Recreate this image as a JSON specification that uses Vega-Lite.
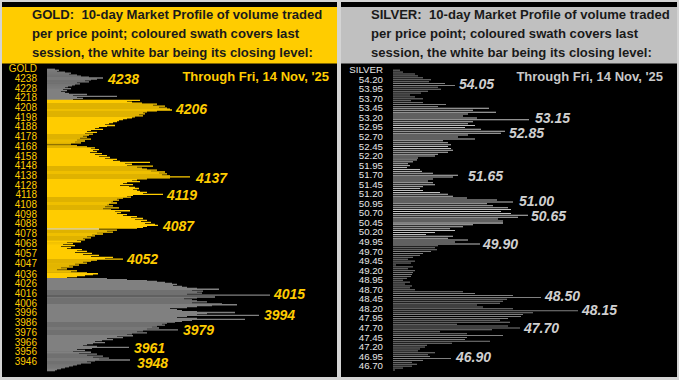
{
  "$schema": "https://vega.github.io/schema/vega-lite/v6.json",
  "background": "#d4d4d4",
  "padding": {"left": 2, "top": 2, "right": 2, "bottom": 3},
  "bounds": "flush",
  "spacing": 4,
  "config": {"view": {"stroke": null}},
  "resolve": {"scale": {"x": "independent", "y": "independent", "color": "independent"}},
  "datasets": {
    "gold": [
      {"p":4248,"v":8,"s":"prior"},{"p":4247,"v":12,"s":"prior"},{"p":4246,"v":10,"s":"prior"},{"p":4245,"v":18,"s":"prior"},{"p":4244,"v":24,"s":"prior"},{"p":4243,"v":22,"s":"prior"},{"p":4242,"v":30,"s":"prior"},{"p":4241,"v":34,"s":"prior"},{"p":4240,"v":42,"s":"prior"},{"p":4239,"v":56,"s":"prior"},{"p":4238,"v":50,"s":"prior"},{"p":4237,"v":44,"s":"prior"},{"p":4236,"v":38,"s":"prior"},{"p":4235,"v":42,"s":"prior"},{"p":4234,"v":30,"s":"prior"},{"p":4233,"v":33,"s":"prior"},{"p":4232,"v":28,"s":"prior"},{"p":4231,"v":25,"s":"prior"},{"p":4230,"v":21,"s":"prior"},{"p":4229,"v":18,"s":"prior"},{"p":4228,"v":24,"s":"prior"},{"p":4227,"v":16,"s":"prior"},{"p":4226,"v":20,"s":"prior"},{"p":4225,"v":14,"s":"prior"},{"p":4224,"v":18,"s":"prior"},{"p":4223,"v":22,"s":"prior"},{"p":4222,"v":40,"s":"prior"},{"p":4221,"v":26,"s":"prior"},{"p":4220,"v":70,"s":"prior"},{"p":4219,"v":30,"s":"prior"},{"p":4218,"v":36,"s":"prior"},{"p":4217,"v":26,"s":"prior"},
      {"p":4216,"v":93,"s":"last"},{"p":4215,"v":80,"s":"last"},{"p":4214,"v":85,"s":"last"},{"p":4213,"v":95,"s":"last"},{"p":4212,"v":110,"s":"last"},{"p":4211,"v":106,"s":"last"},{"p":4210,"v":118,"s":"last"},{"p":4209,"v":112,"s":"last"},{"p":4208,"v":120,"s":"last"},{"p":4207,"v":123,"s":"last"},{"p":4206,"v":125,"s":"last"},{"p":4205,"v":110,"s":"last"},{"p":4204,"v":100,"s":"last"},{"p":4203,"v":96,"s":"last"},{"p":4202,"v":98,"s":"last"},{"p":4201,"v":92,"s":"last"},{"p":4200,"v":96,"s":"last"},{"p":4199,"v":88,"s":"last"},{"p":4198,"v":85,"s":"last"},{"p":4197,"v":80,"s":"last"},{"p":4196,"v":76,"s":"last"},{"p":4195,"v":72,"s":"last"},{"p":4194,"v":70,"s":"last"},{"p":4193,"v":66,"s":"last"},{"p":4192,"v":62,"s":"last"},{"p":4191,"v":58,"s":"last"},{"p":4190,"v":68,"s":"last"},{"p":4189,"v":60,"s":"last"},{"p":4188,"v":52,"s":"last"},{"p":4187,"v":48,"s":"last"},{"p":4186,"v":56,"s":"last"},{"p":4185,"v":44,"s":"last"},{"p":4184,"v":40,"s":"last"},{"p":4183,"v":50,"s":"last"},{"p":4182,"v":38,"s":"last"},{"p":4181,"v":46,"s":"last"},{"p":4180,"v":42,"s":"last"},{"p":4179,"v":36,"s":"last"},{"p":4178,"v":40,"s":"last"},{"p":4177,"v":33,"s":"last"},{"p":4176,"v":44,"s":"last"},{"p":4175,"v":30,"s":"last"},{"p":4174,"v":38,"s":"last"},{"p":4173,"v":28,"s":"last"},{"p":4172,"v":34,"s":"last"},{"p":4171,"v":24,"s":"last"},{"p":4170,"v":0,"s":"last"},{"p":4169,"v":30,"s":"last"},{"p":4168,"v":40,"s":"last"},{"p":4167,"v":48,"s":"last"},{"p":4166,"v":44,"s":"last"},{"p":4165,"v":52,"s":"last"},{"p":4164,"v":46,"s":"last"},{"p":4163,"v":50,"s":"last"},{"p":4162,"v":43,"s":"last"},{"p":4161,"v":55,"s":"last"},{"p":4160,"v":48,"s":"last"},{"p":4159,"v":60,"s":"last"},{"p":4158,"v":52,"s":"last"},{"p":4157,"v":63,"s":"last"},{"p":4156,"v":58,"s":"last"},{"p":4155,"v":70,"s":"last"},{"p":4154,"v":66,"s":"last"},{"p":4153,"v":73,"s":"last"},{"p":4152,"v":103,"s":"last"},{"p":4151,"v":78,"s":"last"},{"p":4150,"v":85,"s":"last"},{"p":4149,"v":80,"s":"last"},{"p":4148,"v":106,"s":"last"},{"p":4147,"v":90,"s":"last"},{"p":4146,"v":95,"s":"last"},{"p":4145,"v":100,"s":"last"},{"p":4144,"v":110,"s":"last"},{"p":4143,"v":104,"s":"last"},{"p":4142,"v":118,"s":"last"},{"p":4141,"v":112,"s":"last"},{"p":4140,"v":120,"s":"last"},{"p":4139,"v":115,"s":"last"},{"p":4138,"v":123,"s":"last"},{"p":4137,"v":143,"s":"last"},{"p":4136,"v":123,"s":"last"},{"p":4135,"v":100,"s":"last"},{"p":4134,"v":90,"s":"last"},{"p":4133,"v":85,"s":"last"},{"p":4132,"v":93,"s":"last"},{"p":4131,"v":80,"s":"last"},{"p":4130,"v":76,"s":"last"},{"p":4129,"v":86,"s":"last"},{"p":4128,"v":73,"s":"last"},{"p":4127,"v":82,"s":"last"},{"p":4126,"v":88,"s":"last"},{"p":4125,"v":92,"s":"last"},{"p":4124,"v":86,"s":"last"},{"p":4123,"v":90,"s":"last"},{"p":4122,"v":93,"s":"last"},{"p":4121,"v":100,"s":"last"},{"p":4120,"v":96,"s":"last"},{"p":4119,"v":116,"s":"last"},{"p":4118,"v":86,"s":"last"},{"p":4117,"v":80,"s":"last"},{"p":4116,"v":84,"s":"last"},{"p":4115,"v":76,"s":"last"},{"p":4114,"v":70,"s":"last"},{"p":4113,"v":72,"s":"last"},{"p":4112,"v":66,"s":"last"},{"p":4111,"v":64,"s":"last"},{"p":4110,"v":70,"s":"last"},{"p":4109,"v":62,"s":"last"},{"p":4108,"v":60,"s":"last"},{"p":4107,"v":66,"s":"last"},{"p":4106,"v":58,"s":"last"},{"p":4105,"v":72,"s":"last"},{"p":4104,"v":56,"s":"last"},{"p":4103,"v":64,"s":"last"},{"p":4102,"v":83,"s":"last"},{"p":4101,"v":68,"s":"last"},{"p":4100,"v":74,"s":"last"},{"p":4099,"v":70,"s":"last"},{"p":4098,"v":80,"s":"last"},{"p":4097,"v":76,"s":"last"},{"p":4096,"v":90,"s":"last"},{"p":4095,"v":84,"s":"last"},{"p":4094,"v":96,"s":"last"},{"p":4093,"v":88,"s":"last"},{"p":4092,"v":100,"s":"last"},{"p":4091,"v":94,"s":"last"},{"p":4090,"v":104,"s":"last"},{"p":4089,"v":98,"s":"last"},{"p":4088,"v":108,"s":"last"},{"p":4087,"v":111,"s":"last"},{"p":4086,"v":100,"s":"last"},{"p":4085,"v":96,"s":"last"},{"p":4084,"v":90,"s":"last"},{"p":4083,"v":52,"s":"close"},{"p":4082,"v":70,"s":"last"},{"p":4081,"v":60,"s":"last"},{"p":4080,"v":66,"s":"last"},{"p":4079,"v":50,"s":"last"},{"p":4078,"v":56,"s":"last"},{"p":4077,"v":45,"s":"last"},{"p":4076,"v":48,"s":"last"},{"p":4075,"v":40,"s":"last"},{"p":4074,"v":44,"s":"last"},{"p":4073,"v":36,"s":"last"},{"p":4072,"v":38,"s":"last"},{"p":4071,"v":30,"s":"last"},{"p":4070,"v":34,"s":"last"},{"p":4069,"v":20,"s":"last"},{"p":4068,"v":26,"s":"last"},{"p":4067,"v":16,"s":"last"},{"p":4066,"v":28,"s":"last"},{"p":4065,"v":14,"s":"last"},{"p":4064,"v":24,"s":"last"},{"p":4063,"v":20,"s":"last"},{"p":4062,"v":35,"s":"last"},{"p":4061,"v":30,"s":"last"},{"p":4060,"v":40,"s":"last"},{"p":4059,"v":28,"s":"last"},{"p":4058,"v":45,"s":"last"},{"p":4057,"v":36,"s":"last"},{"p":4056,"v":52,"s":"last"},{"p":4055,"v":44,"s":"last"},{"p":4054,"v":66,"s":"last"},{"p":4053,"v":58,"s":"last"},{"p":4052,"v":76,"s":"last"},{"p":4051,"v":50,"s":"last"},{"p":4050,"v":44,"s":"last"},{"p":4049,"v":36,"s":"last"},{"p":4048,"v":40,"s":"last"},{"p":4047,"v":28,"s":"last"},{"p":4046,"v":32,"s":"last"},{"p":4045,"v":22,"s":"last"},{"p":4044,"v":26,"s":"last"},{"p":4043,"v":14,"s":"last"},{"p":4042,"v":20,"s":"last"},{"p":4041,"v":10,"s":"last"},{"p":4040,"v":30,"s":"last"},{"p":4039,"v":24,"s":"last"},{"p":4038,"v":40,"s":"last"},{"p":4037,"v":51,"s":"last"},{"p":4036,"v":46,"s":"last"},{"p":4035,"v":38,"s":"last"},{"p":4034,"v":30,"s":"last"},{"p":4033,"v":20,"s":"last"},
      {"p":4032,"v":60,"s":"prior"},{"p":4031,"v":80,"s":"prior"},{"p":4030,"v":100,"s":"prior"},{"p":4029,"v":110,"s":"prior"},{"p":4028,"v":118,"s":"prior"},{"p":4027,"v":125,"s":"prior"},{"p":4026,"v":130,"s":"prior"},{"p":4025,"v":126,"s":"prior"},{"p":4024,"v":135,"s":"prior"},{"p":4023,"v":140,"s":"prior"},{"p":4022,"v":150,"s":"prior"},{"p":4021,"v":172,"s":"prior"},{"p":4020,"v":145,"s":"prior"},{"p":4019,"v":156,"s":"prior"},{"p":4018,"v":150,"s":"prior"},{"p":4017,"v":155,"s":"prior"},{"p":4016,"v":140,"s":"prior"},{"p":4015,"v":223,"s":"prior"},{"p":4014,"v":0,"s":"prior"},{"p":4013,"v":168,"s":"prior"},{"p":4012,"v":150,"s":"prior"},{"p":4011,"v":137,"s":"prior"},{"p":4010,"v":145,"s":"prior"},{"p":4009,"v":150,"s":"prior"},{"p":4008,"v":160,"s":"prior"},{"p":4007,"v":145,"s":"prior"},{"p":4006,"v":175,"s":"prior"},{"p":4005,"v":190,"s":"prior"},{"p":4004,"v":165,"s":"prior"},{"p":4003,"v":150,"s":"prior"},{"p":4002,"v":140,"s":"prior"},{"p":4001,"v":123,"s":"prior"},{"p":4000,"v":130,"s":"prior"},{"p":3999,"v":135,"s":"prior"},{"p":3998,"v":150,"s":"prior"},{"p":3997,"v":188,"s":"prior"},{"p":3996,"v":160,"s":"prior"},{"p":3995,"v":150,"s":"prior"},{"p":3994,"v":212,"s":"prior"},{"p":3993,"v":140,"s":"prior"},{"p":3992,"v":130,"s":"prior"},{"p":3991,"v":150,"s":"prior"},{"p":3990,"v":198,"s":"prior"},{"p":3989,"v":145,"s":"prior"},{"p":3988,"v":135,"s":"prior"},{"p":3987,"v":128,"s":"prior"},{"p":3986,"v":120,"s":"prior"},{"p":3985,"v":115,"s":"prior"},{"p":3984,"v":118,"s":"prior"},{"p":3983,"v":110,"s":"prior"},{"p":3982,"v":105,"s":"prior"},{"p":3981,"v":112,"s":"prior"},{"p":3980,"v":100,"s":"prior"},{"p":3979,"v":131,"s":"prior"},{"p":3978,"v":96,"s":"prior"},{"p":3977,"v":90,"s":"prior"},{"p":3976,"v":100,"s":"prior"},{"p":3975,"v":85,"s":"prior"},{"p":3974,"v":80,"s":"prior"},{"p":3973,"v":86,"s":"prior"},{"p":3972,"v":70,"s":"prior"},{"p":3971,"v":76,"s":"prior"},{"p":3970,"v":60,"s":"prior"},{"p":3969,"v":66,"s":"prior"},{"p":3968,"v":55,"s":"prior"},{"p":3967,"v":48,"s":"prior"},{"p":3966,"v":58,"s":"prior"},{"p":3965,"v":46,"s":"prior"},{"p":3964,"v":40,"s":"prior"},{"p":3963,"v":36,"s":"prior"},{"p":3962,"v":50,"s":"prior"},{"p":3961,"v":82,"s":"prior"},{"p":3960,"v":45,"s":"prior"},{"p":3959,"v":30,"s":"prior"},{"p":3958,"v":38,"s":"prior"},{"p":3957,"v":26,"s":"prior"},{"p":3956,"v":44,"s":"prior"},{"p":3955,"v":32,"s":"prior"},{"p":3954,"v":50,"s":"prior"},{"p":3953,"v":40,"s":"prior"},{"p":3952,"v":56,"s":"prior"},{"p":3951,"v":46,"s":"prior"},{"p":3950,"v":62,"s":"prior"},{"p":3949,"v":52,"s":"prior"},{"p":3948,"v":83,"s":"prior"},{"p":3947,"v":48,"s":"prior"},{"p":3946,"v":40,"s":"prior"},{"p":3945,"v":44,"s":"prior"},{"p":3944,"v":34,"s":"prior"},{"p":3943,"v":30,"s":"prior"},{"p":3942,"v":26,"s":"prior"},{"p":3941,"v":22,"s":"prior"},{"p":3940,"v":18,"s":"prior"},{"p":3939,"v":14,"s":"prior"},{"p":3938,"v":10,"s":"prior"},{"p":3937,"v":8,"s":"prior"}
    ],
    "silver": [
      {"p":54.45,"v":7,"s":"prior"},{"p":54.40,"v":10,"s":"prior"},{"p":54.35,"v":22,"s":"prior"},{"p":54.30,"v":25,"s":"prior"},{"p":54.25,"v":30,"s":"prior"},{"p":54.20,"v":38,"s":"prior"},{"p":54.15,"v":36,"s":"prior"},{"p":54.10,"v":52,"s":"prior"},{"p":54.05,"v":62,"s":"prior"},{"p":54.00,"v":45,"s":"prior"},{"p":53.95,"v":48,"s":"prior"},{"p":53.90,"v":35,"s":"prior"},{"p":53.85,"v":28,"s":"prior"},{"p":53.80,"v":17,"s":"prior"},{"p":53.75,"v":22,"s":"prior"},{"p":53.70,"v":30,"s":"prior"},{"p":53.65,"v":18,"s":"prior"},{"p":53.60,"v":30,"s":"prior"},{"p":53.55,"v":53,"s":"prior"},{"p":53.50,"v":45,"s":"prior"},
      {"p":53.45,"v":96,"s":"last"},{"p":53.40,"v":80,"s":"last"},{"p":53.35,"v":103,"s":"last"},{"p":53.30,"v":75,"s":"last"},{"p":53.25,"v":70,"s":"last"},{"p":53.20,"v":84,"s":"last"},{"p":53.15,"v":136,"s":"last"},{"p":53.10,"v":80,"s":"last"},{"p":53.05,"v":75,"s":"last"},{"p":53.00,"v":82,"s":"last"},{"p":52.95,"v":72,"s":"last"},{"p":52.90,"v":88,"s":"last"},{"p":52.85,"v":112,"s":"last"},{"p":52.80,"v":108,"s":"last"},{"p":52.75,"v":75,"s":"last"},{"p":52.70,"v":65,"s":"last"},{"p":52.65,"v":82,"s":"last"},{"p":52.60,"v":50,"s":"last"},{"p":52.55,"v":55,"s":"last"},{"p":52.50,"v":58,"s":"last"},{"p":52.45,"v":55,"s":"last"},{"p":52.40,"v":58,"s":"last"},{"p":52.35,"v":60,"s":"last"},{"p":52.30,"v":55,"s":"last"},{"p":52.25,"v":45,"s":"last"},{"p":52.20,"v":42,"s":"last"},{"p":52.15,"v":25,"s":"last"},{"p":52.10,"v":24,"s":"last"},{"p":52.05,"v":20,"s":"last"},{"p":52.00,"v":15,"s":"last"},{"p":51.95,"v":17,"s":"last"},{"p":51.90,"v":14,"s":"last"},{"p":51.85,"v":27,"s":"last"},{"p":51.80,"v":29,"s":"last"},{"p":51.75,"v":40,"s":"last"},{"p":51.70,"v":65,"s":"last"},{"p":51.65,"v":60,"s":"last"},{"p":51.60,"v":40,"s":"last"},{"p":51.55,"v":35,"s":"last"},{"p":51.50,"v":40,"s":"last"},{"p":51.45,"v":42,"s":"last"},{"p":51.40,"v":30,"s":"last"},{"p":51.35,"v":27,"s":"last"},{"p":51.30,"v":30,"s":"last"},{"p":51.25,"v":47,"s":"last"},{"p":51.20,"v":55,"s":"last"},{"p":51.15,"v":60,"s":"last"},{"p":51.10,"v":74,"s":"last"},{"p":51.05,"v":104,"s":"last"},{"p":51.00,"v":120,"s":"last"},{"p":50.95,"v":94,"s":"last"},{"p":50.90,"v":100,"s":"last"},{"p":50.85,"v":115,"s":"last"},{"p":50.80,"v":118,"s":"last"},{"p":50.75,"v":108,"s":"last"},{"p":50.70,"v":118,"s":"last"},{"p":50.65,"v":135,"s":"last"},{"p":50.60,"v":125,"s":"last"},{"p":50.55,"v":105,"s":"last"},{"p":50.50,"v":110,"s":"last"},{"p":50.45,"v":110,"s":"close"},{"p":50.40,"v":80,"s":"last"},{"p":50.35,"v":70,"s":"last"},{"p":50.30,"v":57,"s":"last"},{"p":50.25,"v":62,"s":"last"},{"p":50.20,"v":42,"s":"last"},{"p":50.15,"v":33,"s":"last"},{"p":50.10,"v":60,"s":"last"},{"p":50.05,"v":55,"s":"last"},{"p":50.00,"v":75,"s":"last"},{"p":49.95,"v":62,"s":"last"},{"p":49.90,"v":87,"s":"last"},
      {"p":49.85,"v":45,"s":"prior"},{"p":49.80,"v":42,"s":"prior"},{"p":49.75,"v":44,"s":"prior"},{"p":49.70,"v":38,"s":"prior"},{"p":49.65,"v":30,"s":"prior"},{"p":49.60,"v":27,"s":"prior"},{"p":49.55,"v":20,"s":"prior"},{"p":49.50,"v":15,"s":"prior"},{"p":49.45,"v":22,"s":"prior"},{"p":49.40,"v":18,"s":"prior"},{"p":49.35,"v":3,"s":"prior"},{"p":49.30,"v":20,"s":"prior"},{"p":49.25,"v":15,"s":"prior"},{"p":49.20,"v":22,"s":"prior"},{"p":49.15,"v":20,"s":"prior"},{"p":49.10,"v":19,"s":"prior"},{"p":49.05,"v":18,"s":"prior"},{"p":49.00,"v":14,"s":"prior"},{"p":48.95,"v":10,"s":"prior"},{"p":48.90,"v":17,"s":"prior"},{"p":48.85,"v":12,"s":"prior"},{"p":48.80,"v":19,"s":"prior"},{"p":48.75,"v":17,"s":"prior"},{"p":48.70,"v":22,"s":"prior"},{"p":48.65,"v":70,"s":"prior"},{"p":48.60,"v":82,"s":"prior"},{"p":48.55,"v":120,"s":"prior"},{"p":48.50,"v":148,"s":"prior"},{"p":48.45,"v":114,"s":"prior"},{"p":48.40,"v":110,"s":"prior"},{"p":48.35,"v":107,"s":"prior"},{"p":48.30,"v":84,"s":"prior"},{"p":48.25,"v":90,"s":"prior"},{"p":48.20,"v":120,"s":"prior"},{"p":48.15,"v":185,"s":"prior"},{"p":48.10,"v":140,"s":"prior"},{"p":48.05,"v":130,"s":"prior"},{"p":48.00,"v":128,"s":"prior"},{"p":47.95,"v":115,"s":"prior"},{"p":47.90,"v":107,"s":"prior"},{"p":47.85,"v":117,"s":"prior"},{"p":47.80,"v":64,"s":"prior"},{"p":47.75,"v":115,"s":"prior"},{"p":47.70,"v":127,"s":"prior"},{"p":47.65,"v":99,"s":"prior"},{"p":47.60,"v":47,"s":"prior"},{"p":47.55,"v":74,"s":"prior"},{"p":47.50,"v":110,"s":"prior"},{"p":47.45,"v":74,"s":"prior"},{"p":47.40,"v":72,"s":"prior"},{"p":47.35,"v":97,"s":"prior"},{"p":47.30,"v":59,"s":"prior"},{"p":47.25,"v":34,"s":"prior"},{"p":47.20,"v":32,"s":"prior"},{"p":47.15,"v":27,"s":"prior"},{"p":47.10,"v":25,"s":"prior"},{"p":47.05,"v":42,"s":"prior"},{"p":47.00,"v":35,"s":"prior"},{"p":46.95,"v":37,"s":"prior"},{"p":46.90,"v":58,"s":"prior"},{"p":46.85,"v":30,"s":"prior"},{"p":46.80,"v":19,"s":"prior"},{"p":46.75,"v":24,"s":"prior"},{"p":46.70,"v":19,"s":"prior"},{"p":46.65,"v":10,"s":"prior"},{"p":46.60,"v":2,"s":"prior"}
    ],
    "goldTicks": [
      {"p":4248,"t":"GOLD"},{"p":4238,"t":"4238"},{"p":4228,"t":"4228"},{"p":4218,"t":"4218"},{"p":4208,"t":"4208"},{"p":4198,"t":"4198"},{"p":4188,"t":"4188"},{"p":4178,"t":"4178"},{"p":4168,"t":"4168"},{"p":4158,"t":"4158"},{"p":4148,"t":"4148"},{"p":4138,"t":"4138"},{"p":4128,"t":"4128"},{"p":4118,"t":"4118"},{"p":4108,"t":"4108"},{"p":4098,"t":"4098"},{"p":4088,"t":"4088"},{"p":4078,"t":"4078"},{"p":4068,"t":"4068"},{"p":4057,"t":"4057"},{"p":4047,"t":"4047"},{"p":4036,"t":"4036"},{"p":4026,"t":"4026"},{"p":4016,"t":"4016"},{"p":4006,"t":"4006"},{"p":3996,"t":"3996"},{"p":3986,"t":"3986"},{"p":3976,"t":"3976"},{"p":3966,"t":"3966"},{"p":3956,"t":"3956"},{"p":3946,"t":"3946"}
    ],
    "silverTicks": [
      {"p":54.45,"t":"SILVER"},{"p":54.20,"t":"54.20"},{"p":53.95,"t":"53.95"},{"p":53.70,"t":"53.70"},{"p":53.45,"t":"53.45"},{"p":53.20,"t":"53.20"},{"p":52.95,"t":"52.95"},{"p":52.70,"t":"52.70"},{"p":52.45,"t":"52.45"},{"p":52.20,"t":"52.20"},{"p":51.95,"t":"51.95"},{"p":51.70,"t":"51.70"},{"p":51.45,"t":"51.45"},{"p":51.20,"t":"51.20"},{"p":50.95,"t":"50.95"},{"p":50.70,"t":"50.70"},{"p":50.45,"t":"50.45"},{"p":50.20,"t":"50.20"},{"p":49.95,"t":"49.95"},{"p":49.70,"t":"49.70"},{"p":49.45,"t":"49.45"},{"p":49.20,"t":"49.20"},{"p":48.95,"t":"48.95"},{"p":48.70,"t":"48.70"},{"p":48.45,"t":"48.45"},{"p":48.20,"t":"48.20"},{"p":47.95,"t":"47.95"},{"p":47.70,"t":"47.70"},{"p":47.45,"t":"47.45"},{"p":47.20,"t":"47.20"},{"p":46.95,"t":"46.95"},{"p":46.70,"t":"46.70"}
    ],
    "goldLabels": [
      {"p":4236.5,"v":57,"t":"4238"},{"p":4205.5,"v":125,"t":"4206"},{"p":4135.2,"v":145,"t":"4137"},{"p":4117,"v":116,"t":"4119"},{"p":4085.3,"v":112,"t":"4087"},{"p":4051.4,"v":76,"t":"4052"},{"p":4014.6,"v":223,"t":"4015"},{"p":3992.9,"v":213,"t":"3994"},{"p":3977.8,"v":132,"t":"3979"},{"p":3959.3,"v":83,"t":"3961"},{"p":3944.2,"v":86,"t":"3948"}
    ],
    "silverLabels": [
      {"p":54.053,"v":62,"t":"54.05"},{"p":53.161,"v":138,"t":"53.15"},{"p":52.778,"v":112,"t":"52.85"},{"p":51.657,"v":71,"t":"51.65"},{"p":50.994,"v":122,"t":"51.00"},{"p":50.612,"v":134,"t":"50.65"},{"p":49.866,"v":86,"t":"49.90"},{"p":48.507,"v":148,"t":"48.50"},{"p":48.133,"v":185,"t":"48.15"},{"p":47.681,"v":127,"t":"47.70"},{"p":46.902,"v":59,"t":"46.90"}
    ],
    "goldHead": [{"t": "GOLD:\u00a0 10-day Market Profile of volume traded\nper price point; coloured swath covers last\nsession, the white bar being its closing level:", "d": "Through Fri, 14 Nov, '25"}],
    "silverHead": [{"t": "SILVER:\u00a0 10-day Market Profile of volume traded\nper price point; coloured swath covers last\nsession, the white bar being its closing level:", "d": "Through Fri, 14 Nov, '25"}]
  },
  "hconcat": [
    {
      "width": 335,
      "height": 375,
      "view": {"fill": "#000000", "stroke": null},
      "layer": [
        {
          "data": {"name": "gold"},
          "mark": {"type": "bar", "orient": "horizontal", "height": 1.3},
          "encoding": {
            "y": {"field": "p", "type": "quantitative", "scale": {"domain": [3935.6, 4312.3], "nice": false, "zero": false}, "axis": null},
            "x": {"field": "v", "type": "quantitative", "scale": {"domain": [-45, 290], "nice": false, "zero": false}, "axis": null},
            "x2": {"datum": 0},
            "color": {"field": "s", "type": "nominal", "scale": {"domain": ["prior", "last", "close"], "range": ["#808080", "#FFCC00", "#FFFFFF"]}, "legend": null}
          }
        },
        {
          "data": {"name": "goldHead"},
          "mark": {"type": "rect", "color": "#FFCC00"},
          "encoding": {
            "y": {"datum": 4312.3, "type": "quantitative", "axis": null},
            "y2": {"datum": 4254.1},
            "x": {"datum": -45, "type": "quantitative", "axis": null},
            "x2": {"datum": 290}
          }
        },
        {
          "data": {"name": "goldTicks"},
          "mark": {"type": "text", "align": "right", "baseline": "middle", "font": "Liberation Sans", "fontSize": 10, "color": "#FFCC00"},
          "encoding": {
            "text": {"field": "t"},
            "y": {"field": "p", "type": "quantitative", "axis": null},
            "x": {"datum": -10, "type": "quantitative", "axis": null}
          }
        },
        {
          "data": {"name": "goldHead"},
          "mark": {"type": "text", "lineBreak": "\n", "lineHeight": 18.6, "align": "left", "baseline": "top", "font": "Liberation Sans", "fontSize": 13.1, "fontWeight": "bold", "color": "#1a1a1a"},
          "encoding": {
            "text": {"field": "t"},
            "y": {"datum": 4309.8, "type": "quantitative", "axis": null},
            "x": {"datum": -15, "type": "quantitative", "axis": null}
          }
        },
        {
          "data": {"name": "goldHead"},
          "mark": {"type": "text", "align": "right", "baseline": "middle", "font": "Liberation Sans", "fontSize": 13, "fontWeight": "bold", "color": "#FFCC00"},
          "encoding": {
            "text": {"field": "d"},
            "y": {"datum": 4240.2, "type": "quantitative", "axis": null},
            "x": {"datum": 282, "type": "quantitative", "axis": null}
          }
        },
        {
          "data": {"name": "goldLabels"},
          "mark": {"type": "text", "align": "left", "baseline": "middle", "dx": 4, "font": "Liberation Sans", "fontSize": 14, "fontWeight": "bold", "fontStyle": "italic", "color": "#FFCC00"},
          "encoding": {
            "text": {"field": "t"},
            "y": {"field": "p", "type": "quantitative", "axis": null},
            "x": {"field": "v", "type": "quantitative", "axis": null}
          }
        }
      ]
    },
    {
      "width": 336,
      "height": 375,
      "view": {"fill": "#000000", "stroke": null},
      "layer": [
        {
          "data": {"name": "silver"},
          "mark": {"type": "bar", "orient": "horizontal", "height": 1},
          "encoding": {
            "y": {"field": "p", "type": "quantitative", "scale": {"domain": [46.547, 56.104], "nice": false, "zero": false}, "axis": null},
            "x": {"field": "v", "type": "quantitative", "scale": {"domain": [-52, 284], "nice": false, "zero": false}, "axis": null},
            "x2": {"datum": 0},
            "color": {"field": "s", "type": "nominal", "scale": {"domain": ["prior", "last", "close"], "range": ["#808080", "#C0C0C0", "#FFFFFF"]}, "legend": null}
          }
        },
        {
          "data": {"name": "silverHead"},
          "mark": {"type": "rect", "color": "#C0C0C0"},
          "encoding": {
            "y": {"datum": 56.104, "type": "quantitative", "axis": null},
            "y2": {"datum": 54.626},
            "x": {"datum": -52, "type": "quantitative", "axis": null},
            "x2": {"datum": 284}
          }
        },
        {
          "data": {"name": "silverTicks"},
          "mark": {"type": "text", "align": "right", "baseline": "middle", "font": "Liberation Sans", "fontSize": 9.7, "color": "#E6E6E6"},
          "encoding": {
            "text": {"field": "t"},
            "y": {"field": "p", "type": "quantitative", "axis": null},
            "x": {"datum": -10, "type": "quantitative", "axis": null}
          }
        },
        {
          "data": {"name": "silverHead"},
          "mark": {"type": "text", "lineBreak": "\n", "lineHeight": 18.6, "align": "left", "baseline": "top", "font": "Liberation Sans", "fontSize": 13.1, "fontWeight": "bold", "color": "#1a1a1a"},
          "encoding": {
            "text": {"field": "t"},
            "y": {"datum": 56.04, "type": "quantitative", "axis": null},
            "x": {"datum": -22, "type": "quantitative", "axis": null}
          }
        },
        {
          "data": {"name": "silverHead"},
          "mark": {"type": "text", "align": "right", "baseline": "middle", "font": "Liberation Sans", "fontSize": 13, "fontWeight": "bold", "color": "#C8C8C8"},
          "encoding": {
            "text": {"field": "d"},
            "y": {"datum": 54.274, "type": "quantitative", "axis": null},
            "x": {"datum": 270, "type": "quantitative", "axis": null}
          }
        },
        {
          "data": {"name": "silverLabels"},
          "mark": {"type": "text", "align": "left", "baseline": "middle", "dx": 4, "font": "Liberation Sans", "fontSize": 14, "fontWeight": "bold", "fontStyle": "italic", "color": "#D0D0D0"},
          "encoding": {
            "text": {"field": "t"},
            "y": {"field": "p", "type": "quantitative", "axis": null},
            "x": {"field": "v", "type": "quantitative", "axis": null}
          }
        }
      ]
    }
  ]
}
